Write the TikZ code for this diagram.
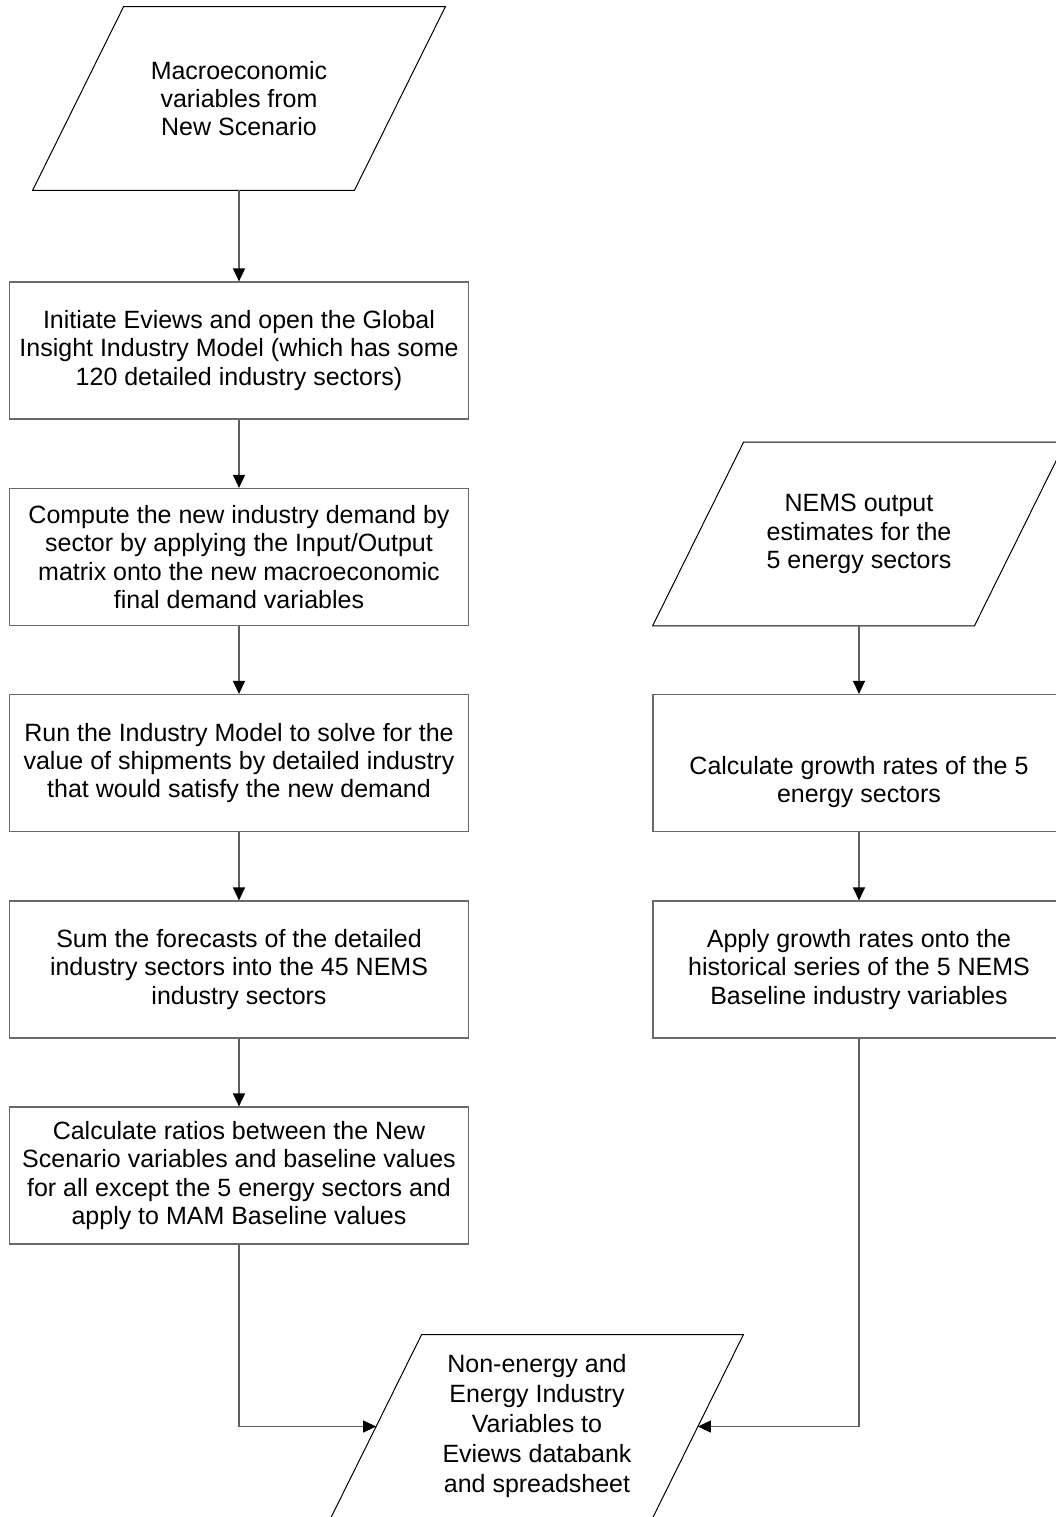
\documentclass[tikz,border=0pt]{standalone}
\usepackage{fontspec}
\setmainfont{Liberation Sans}
\usetikzlibrary{arrows.meta}
\definecolor{boxline}{RGB}{105,105,105}
\definecolor{flowline}{RGB}{95,95,95}
% slanted frame round a data node (skew of 91px each side)
\newcommand\slantframe[1]{%
  \draw[black,line width=0.5pt] ([xshift=22.75pt]#1.north west) -- ([xshift=22.75pt]#1.north east)
    -- ([xshift=-22.75pt]#1.south east) -- ([xshift=-22.75pt]#1.south west) -- cycle;}

\begin{document}
\begin{tikzpicture}[x=0.5pt,y=-0.5pt,
  stepbox/.style={draw=boxline,line width=0.6pt,minimum width=229.5pt,minimum height=68.5pt,
    inner sep=0pt,align=center,font=\fontsize{12.5}{14.15}\selectfont},
  databox/.style={minimum width=160.5pt,minimum height=91.5pt,inner sep=0pt,align=center,
    font=\fontsize{12.5}{14.15}\selectfont},
  flow/.style={draw=flowline,line width=0.6pt,-{Triangle[width=6pt,length=6.5pt,color=black]}}]
\useasboundingbox (0,0) rectangle (1056,1517);
\clip (0,0) rectangle (1056,1517);
% left column
\node[databox] (macro) at (239,98.5) {Macroeconomic\\variables from\\New Scenario};
\node[stepbox] (eviews) at (239,350.5) {Initiate Eviews and open the Global\\Insight Industry Model (which has some\\120 detailed industry sectors)};
\node[stepbox] (compute) at (239,557) {Compute the new industry demand by\\sector by applying the Input/Output\\matrix onto the new macroeconomic\\final demand variables};
\node[stepbox] (runmodel) at (239,763) {Run the Industry Model to solve for the\\value of shipments by detailed industry\\that would satisfy the new demand};
\node[stepbox] (sum) at (239,969.5) {Sum the forecasts of the detailed\\industry sectors into the 45 NEMS\\industry sectors};
\node[stepbox] (ratios) at (239,1175.5) {Calculate ratios between the New\\Scenario variables and baseline values\\for all except the 5 energy sectors and\\apply to MAM Baseline values};
% right column
\node[databox] (nems) at (859,534) {NEMS output\\estimates for the\\5 energy sectors};
\node[stepbox,minimum width=206pt] (growth) at (859,763) {\mbox{}\\\mbox{}\\Calculate growth rates of the 5\\energy sectors};
\node[stepbox,minimum width=206pt] (apply) at (859,969.5) {Apply growth rates onto the\\historical series of the 5 NEMS\\Baseline industry variables};
% output
\node[databox,font=\fontsize{12.5}{15}\selectfont] (bank) at (537,1426.5) {Non-energy and\\Energy Industry\\Variables to\\Eviews databank\\and spreadsheet};
\foreach \n in {macro,nems,bank} \slantframe{\n};

\draw[flow] (macro) -- (eviews);
\draw[flow] (eviews) -- (compute);
\draw[flow] (compute) -- (runmodel);
\draw[flow] (runmodel) -- (sum);
\draw[flow] (sum) -- (ratios);
\draw[flow] (nems) -- (growth);
\draw[flow] (growth) -- (apply);
\draw[flow] (ratios.south) |- (bank.west);
\draw[flow] (apply.south) |- (bank.east);
\end{tikzpicture}
\end{document}
